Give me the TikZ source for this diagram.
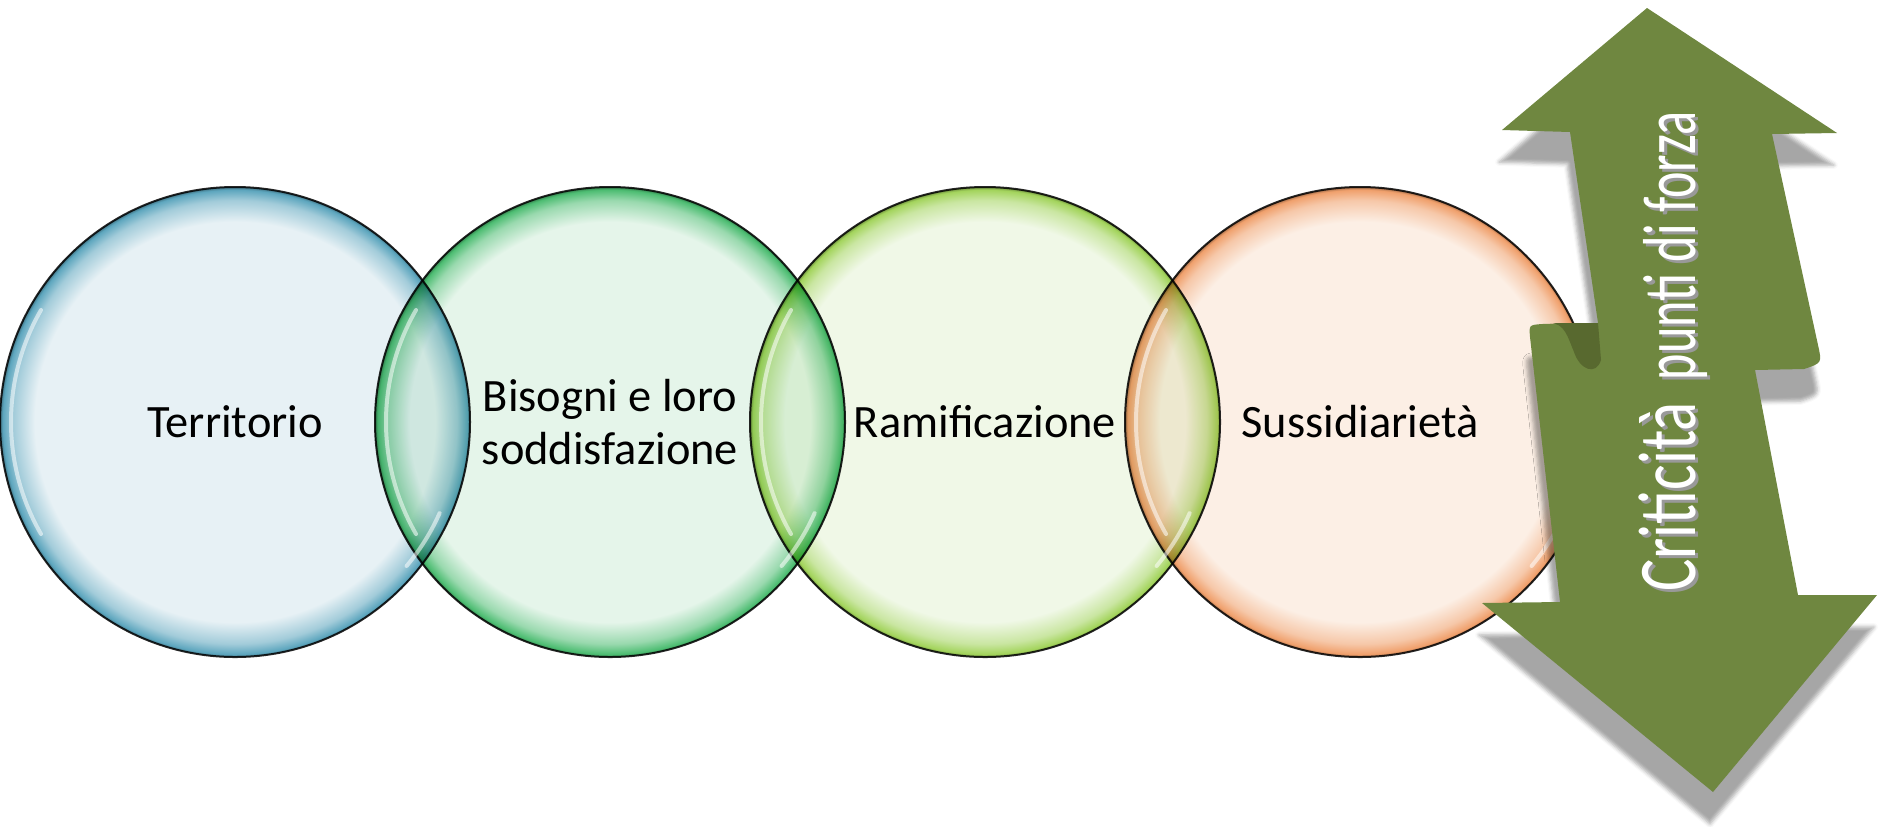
\documentclass[tikz,border=0pt]{standalone}
\usepackage{fontspec}
\setmainfont{Carlito}
\usepackage{graphicx}
\usetikzlibrary{positioning,shadows.blur}
\definecolor{terrfill}{HTML}{E7F1F5}
\definecolor{terrrim}{HTML}{5DA6BE}
\definecolor{bisofill}{HTML}{E5F5EA}
\definecolor{bisorim}{HTML}{4DBD72}
\definecolor{ramifill}{HTML}{F0F8E7}
\definecolor{ramirim}{HTML}{A3D45C}
\definecolor{sussfill}{HTML}{FCEFE5}
\definecolor{sussrim}{HTML}{F0A06C}
\definecolor{arrgreen}{HTML}{6F8740}
\definecolor{arrfold}{HTML}{58692F}
\colorlet{bubfill}{white}
\colorlet{bubrim}{gray}
\pgfdeclareradialshading[bubfill,bubrim]{bubble}{\pgfpointorigin}{color(0bp)=(bubfill); color(21.3bp)=(bubfill); color(23.6bp)=(bubrim!50!bubfill); color(24.7bp)=(bubrim); color(25bp)=(bubrim!70!black); color(50bp)=(bubrim!70!black)}
\tikzset{bubble/.style 2 args={circle, minimum size=235pt, inner sep=0pt, outer sep=0pt, draw=black!85, line width=1pt, blend mode=multiply, /utils/exec={\colorlet{bubfill}{#1}\colorlet{bubrim}{#2}}, shade, shading=bubble, align=center, font=\fontsize{23.2pt}{26.5pt}\selectfont}}
\tikzset{gloss/.style={white, line width=2pt, line cap=round, opacity=0.55}}
\tikzset{twoway/.style={fill=arrgreen, blur shadow={shadow xshift=-1.5pt, shadow yshift=-16pt, shadow opacity=35}}}
\tikzset{arrlabel/.style={rotate=90, anchor=base west, inner sep=0pt}}
\newcommand{\critlabel}{\fontsize{41pt}{41pt}\selectfont\scalebox{0.74}[1]{Criticità}\hspace{11pt}\fontsize{37.5pt}{37.5pt}\selectfont\scalebox{0.67}[1]{punti di forza}}

\begin{document}
\begin{tikzpicture}[x=0.5pt,y=-0.5pt,node distance=-47.5pt]
  \useasboundingbox (0,0) rectangle (1878,826);
  % the four bubbles, each one overlapping the one before
  \node[bubble={terrfill}{terrrim}] (terr) at (235,422) {Territorio};
  \node[bubble={bisofill}{bisorim}] (biso) [right = of terr] {Bisogni e loro\\soddisfazione};
  \node[bubble={ramifill}{ramirim}] (rami) [right = of biso] {Ramificazione};
  \node[bubble={sussfill}{sussrim}] (suss) [right = of rami] {Sussidiarietà};
  % glossy streaks inside the rims
  \foreach \n in {terr,biso,rami,suss} {
    \draw[gloss] ([shift={(150:112pt)}]\n.center) arc (150:210:112pt);
    \draw[gloss] ([shift={(-40:112pt)}]\n.center) arc (-40:-24:112pt);
  }

  % the double arrow on the right
  \fill[twoway] (1647,8) -- (1837,133) -- (1772,134) -- (1818,345)
    .. controls (1822,363) .. (1804,369) -- (1755,370) -- (1798,595)
    -- (1877,595) -- (1713,792) -- (1482,603) -- (1560,602) -- (1530,337)
    .. controls (1529,325) .. (1542,324) -- (1598,323) -- (1570,132)
    -- (1502,130) -- cycle;
  % folded corner
  \fill[arrfold] (1550,323) .. controls (1565,323) and (1568,338) .. (1574,352)
    .. controls (1580,370) and (1596,376) .. (1601,360) -- (1598,323) -- cycle;

  \node[arrlabel, text=black!40] (critshade) at (1698,595) {\critlabel};
  \node[arrlabel, text=white] (crit) at (1695,592) {\critlabel};
\end{tikzpicture}
\end{document}
